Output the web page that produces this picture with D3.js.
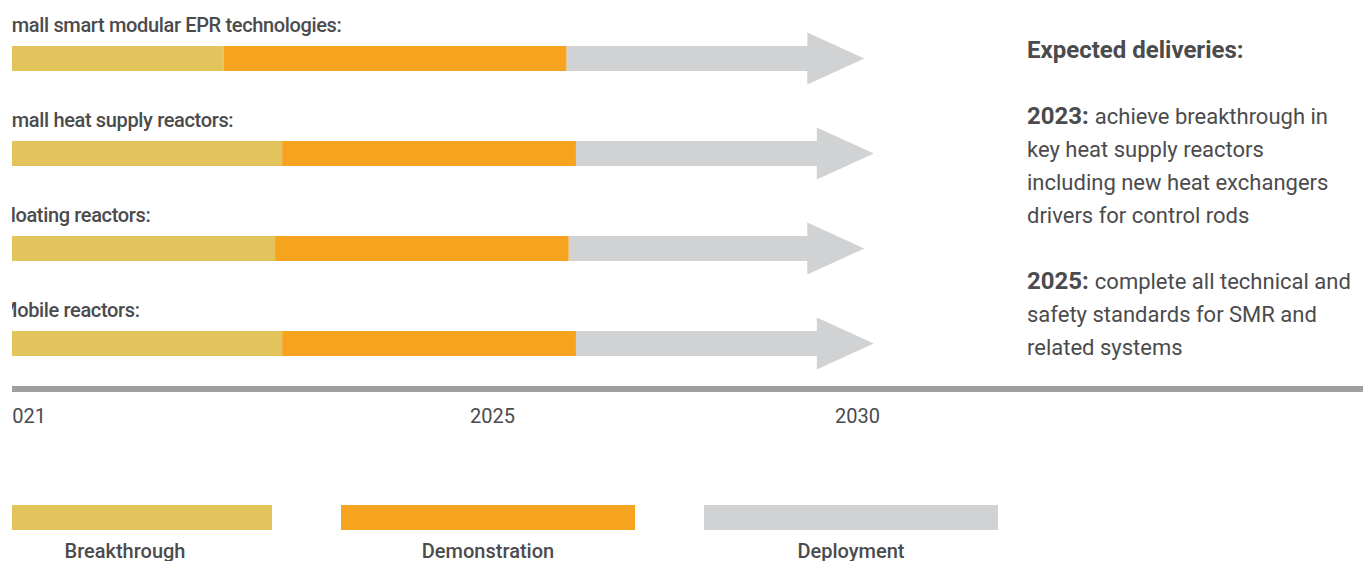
<!DOCTYPE html>
<html>
<head>
<meta charset="utf-8">
<script src="https://cdn.jsdelivr.net/npm/d3@7"></script>
<style>
  html, body { margin: 0; padding: 0; background: #fff; }
  svg { display: block; font-family: Roboto, "Noto Sans", sans-serif; }
</style>
</head>
<body>
<svg id="chart" width="1363" height="561"></svg>
<script>
// Roadmap rows: technology tracks
const technologies = [
  "Small smart modular EPR technologies:",
  "Small heat supply reactors:",
  "Floating reactors:",
  "Mobile reactors:"
];
// Phase boundaries, in years
const phaseStart       = [2020.5, 2020.5, 2020.5, 2020.5];
const breakthroughEnd  = [2022.71, 2023.21, 2023.15, 2023.21];
const demonstrationEnd = [2026.02, 2026.15, 2026.05, 2026.15];
const deploymentEnd    = [2030.10, 2030.23, 2030.10, 2030.23];

const phases = ["Breakthrough", "Demonstration", "Deployment"];
const phaseColors = ["#e3c35b", "#f6a41f", "#d1d2d4"];

const tickYears = [2021, 2025, 2030];

// Side panel notes
const notesTitle = "Expected deliveries:";
const noteYears = ["2023:", "2025:"];
const noteLines = [
  ["achieve breakthrough in", "key heat supply reactors", "including new heat exchangers", "drivers for control rods"],
  ["complete all technical and", "safety standards for SMR and", "related systems"]
];

const W = 1363, H = 561;
const textColor = "#4b4b4d";
const svg = d3.select("#chart");

// Everything is shown inside the visible panel starting at x = 12
svg.append("defs").append("clipPath").attr("id", "panel")
  .append("rect").attr("x", 12).attr("y", 0).attr("width", W - 12).attr("height", H);
const g = svg.append("g").attr("clip-path", "url(#panel)");

// Timeline scale: compressed early years, then even spacing to 2030
const x = d3.scaleLinear().domain([2021, 2025, 2030]).range([23, 492, 857]);

const y = d3.scalePoint().domain(technologies).range([46, 331]);
const barH = 25;
const headLen = 57, headHalf = 26;

const rows = technologies.map((t, i) => ({
  name: t,
  segs: [
    [phaseStart[i], breakthroughEnd[i]],
    [breakthroughEnd[i], demonstrationEnd[i]]
  ],
  end: deploymentEnd[i],
  from: demonstrationEnd[i]
}));

const row = g.selectAll("g.row").data(rows).join("g")
  .attr("class", "row")
  .attr("transform", d => `translate(0,${y(d.name)})`);

// Deployment arrow: shaft plus head, ending at the deployment year
row.append("path")
  .attr("fill", phaseColors[2])
  .attr("d", d => {
    const x0 = x(d.from), tip = x(d.end), base = tip - headLen, cy = barH / 2;
    return `M${x0},0 H${base} V${cy - headHalf} L${tip},${cy} L${base},${cy + headHalf} V${barH} H${x0} Z`;
  });

row.selectAll("rect.phase").data(d => d.segs).join("rect")
  .attr("class", "phase")
  .attr("x", s => x(s[0]))
  .attr("width", s => x(s[1]) - x(s[0]))
  .attr("y", 0)
  .attr("height", barH)
  .attr("fill", (s, j) => phaseColors[j]);

row.append("text")
  .attr("x", 0)
  .attr("y", -14)
  .attr("fill", textColor)
  .style("font-size", "20px")
  .style("font-weight", 500)
  .style("letter-spacing", "-0.35px")
  .text(d => d.name);

// Time axis
g.append("rect")
  .attr("x", 0).attr("width", W)
  .attr("y", 386).attr("height", 6)
  .attr("fill", "#9e9fa1");

const axis = g.append("g")
  .attr("transform", "translate(0,392)")
  .call(d3.axisBottom(x).tickValues(tickYears).tickFormat(d3.format("d")).tickSize(0).tickPadding(0));
axis.select(".domain").remove();
axis.selectAll("text")
  .attr("dy", null)
  .attr("y", 30.5)
  .attr("fill", textColor)
  .style("font-family", "Roboto, sans-serif")
  .style("font-size", "20px");

// Legend
const legW = 294, legStep = 363, legX0 = -22;
const leg = g.selectAll("g.leg").data(phases).join("g")
  .attr("class", "leg")
  .attr("transform", (d, i) => `translate(${legX0 + i * legStep},505)`);
leg.append("rect").attr("width", legW).attr("height", 25).attr("fill", (d, i) => phaseColors[i]);
leg.append("text")
  .attr("x", legW / 2).attr("y", 53)
  .attr("text-anchor", "middle")
  .attr("fill", textColor)
  .style("font-size", "20px")
  .style("font-weight", 500)
  .text(d => d);

// Notes panel
const notes = svg.append("g").attr("transform", "translate(1027,0)").attr("fill", textColor);
notes.append("text")
  .attr("y", 58)
  .style("font-size", "24px").style("font-weight", 700)
  .text(notesTitle);

const noteTop = [124, 289], lineGap = 33;
noteYears.forEach((yr, k) => {
  noteLines[k].forEach((ln, j) => {
    const t = notes.append("text").attr("y", noteTop[k] + j * lineGap).style("font-size", "22px");
    if (j === 0) {
      t.append("tspan").style("font-weight", 700).style("font-size", "24px").text(yr + " ");
    }
    t.append("tspan").text(ln);
  });
});
</script>
</body>
</html>
